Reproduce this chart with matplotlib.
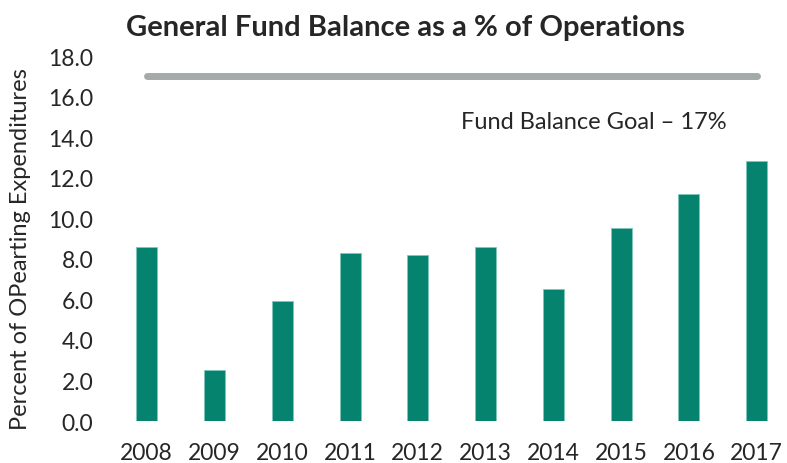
import numpy as np
import matplotlib.pyplot as plt

# data
years = ['2008', '2009', '2010', '2011', '2012', '2013', '2014', '2015', '2016', '2017']
balance = [8.6, 2.5, 5.9, 8.3, 8.2, 8.6, 6.5, 9.5, 11.2, 12.8]
goal = 17.0
yticks = [0, 2, 4, 6, 8, 10, 12, 14, 16, 18]

plt.rcParams['font.family'] = ['Lato', 'DejaVu Sans']
txt = '#262626'

fig = plt.figure(figsize=(7.87, 4.64), dpi=100)
ax = fig.add_axes([0.1433, 0.0905, 0.857, 0.7865])

x = np.arange(len(years))
ax.bar(x, balance, width=0.31, color='#05836f', edgecolor='#7fc7bb', linewidth=0.6)
ax.plot([x[0], x[-1]], [goal, goal], color='#a3aaa9', linewidth=5, solid_capstyle='round')
ax.text(6.59, 14.76, 'Fund Balance Goal \u2013 17%', ha='center', va='center',
        fontsize=17, color=txt)

ax.set_xlim(-0.5, 9.45)
ax.set_ylim(0, 18)
ax.set_xticks(x)
ax.set_xticklabels(years)
ax.set_yticks(yticks)
ax.set_yticklabels(['%.1f' % v for v in yticks])
ax.tick_params(axis='both', length=0, labelsize=16.5, colors=txt)
ax.tick_params(axis='y', pad=14)
ax.tick_params(axis='x', pad=15)
for s in ax.spines.values():
    s.set_visible(False)

fig.text(21 / 787, 1 - 249 / 464, 'Percent of OPearting Expenditures', rotation=90,
         ha='center', va='center', fontsize=17, color=txt)
fig.text(0.515, 0.94, 'General Fund Balance as a % of Operations', ha='center', va='center',
         fontsize=21, fontweight='bold', color=txt)

fig.savefig('out.png', dpi=100)
